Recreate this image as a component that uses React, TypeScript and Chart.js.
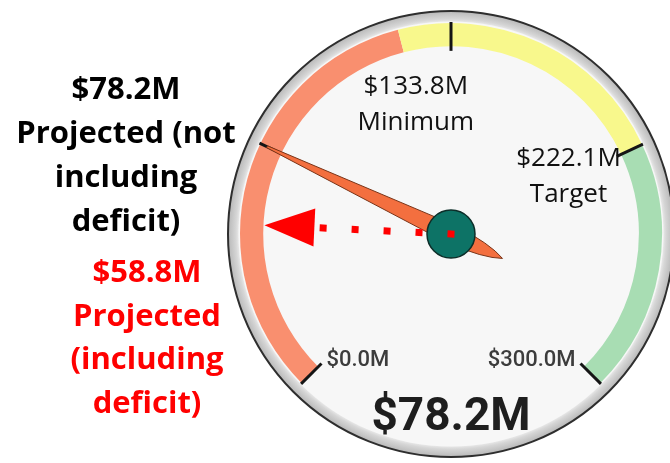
import React, { useEffect, useRef } from 'react';
import { Chart, registerables } from 'chart.js';

Chart.register(...registerables);

// ---- data ----
const scaleMin = 0;
const scaleMax = 300;
const bandStops = [0, 133.8, 222.1, 300];
const bandColors = ['#F98F6F', '#F8F88C', '#A8DDB3'];
const tickValues = [0, 78.2, 150, 222.1, 300];
const endLabels = ['$0.0M', '$300.0M'];
const markerValues = [133.8, 222.1];
const markerAmounts = ['$133.8M', '$222.1M'];
const markerNames = ['Minimum', 'Target'];
const needleValue = 78.2;
const centerLabel = '$78.2M';
const projectedLines = ['$78.2M', 'Projected (not', 'including', 'deficit)'];
const deficitLines = ['$58.8M', 'Projected', '(including', 'deficit)'];

// ---- layout ----
const W = 670;
const H = 463;
const CX = 451;
const CY = 234;
const R = 211;

const bandValues = bandStops.slice(1).map((v, i) => v - bandStops[i]);

const gaugePlugin = {
  id: 'gaugeDecor',
  beforeDatasetsDraw(chart: any) {
    const meta = chart.getDatasetMeta(0);
    const arc = meta.data[0];
    const x = arc.x, y = arc.y, ro = arc.outerRadius;
    const ctx = chart.ctx;
    ctx.save();
    const g = ctx.createRadialGradient(x, y, ro, x, y, ro + 12);
    g.addColorStop(0, '#f0f0f0');
    g.addColorStop(0.35, '#d6d6d6');
    g.addColorStop(1, '#b8b8b8');
    ctx.beginPath();
    ctx.arc(x, y, ro + 12, 0, Math.PI * 2);
    ctx.fillStyle = g;
    ctx.fill();
    ctx.lineWidth = 2;
    ctx.strokeStyle = '#2e2e2e';
    ctx.stroke();
    ctx.beginPath();
    ctx.arc(x, y, ro + 1.5, 0, Math.PI * 2);
    ctx.fillStyle = '#F7F7F7';
    ctx.fill();
    ctx.restore();
  },
  afterDatasetsDraw(chart: any) {
    const meta = chart.getDatasetMeta(0);
    const arcs = meta.data;
    const first = arcs[0];
    const last = arcs[arcs.length - 1];
    const x = first.x, y = first.y, ro = first.outerRadius, ri = first.innerRadius;
    const a0 = first.startAngle, a1 = last.endAngle;
    const ang = (v: number) => a0 + ((v - scaleMin) / (scaleMax - scaleMin)) * (a1 - a0);
    const pt = (a: number, r: number) => ({ x: x + r * Math.cos(a), y: y + r * Math.sin(a) });
    const ctx = chart.ctx;
    ctx.save();

    // ticks
    const r1 = ro * 0.868;
    const r2 = ro + 1;
    ctx.strokeStyle = '#151515';
    ctx.lineWidth = 3;
    tickValues.forEach((v) => {
      const a = ang(v);
      const p1 = pt(a, r1), p2 = pt(a, r2);
      ctx.beginPath();
      ctx.moveTo(p1.x, p1.y);
      ctx.lineTo(p2.x, p2.y);
      ctx.stroke();
    });

    // end labels
    ctx.font = '500 22px Roboto';
    ctx.fillStyle = '#3c3c3c';
    ctx.textBaseline = 'alphabetic';
    const pMin = pt(ang(scaleMin), r1);
    ctx.textAlign = 'left';
    ctx.fillText(endLabels[0], pMin.x + 5, pMin.y + 2);
    const pMax = pt(ang(scaleMax), r1);
    ctx.textAlign = 'right';
    ctx.fillText(endLabels[1], pMax.x - 5, pMax.y + 2);

    // marker labels
    ctx.font = '26px "Open Sans"';
    ctx.fillStyle = '#111';
    ctx.textAlign = 'center';
    markerValues.forEach((v, i) => {
      const p = pt(ang(v), 132);
      ctx.fillText(markerAmounts[i], p.x - 2, p.y - 12);
      ctx.fillText(markerNames[i], p.x - 2, p.y + 24);
    });

    // needle
    const an = ang(needleValue);
    const ux = Math.cos(an), uy = Math.sin(an);
    const nx = -uy, ny = ux;
    const L = (s: number, t: number) => [x + ux * s + nx * t, y + uy * s + ny * t];
    ctx.beginPath();
    let q = L(ro * 0.965, 1);
    ctx.moveTo(q[0], q[1]);
    q = L(0, 9.5);
    ctx.lineTo(q[0], q[1]);
    let c = L(-40, 8);
    q = L(-57, 0);
    ctx.quadraticCurveTo(c[0], c[1], q[0], q[1]);
    c = L(-40, -8);
    q = L(0, -9.5);
    ctx.quadraticCurveTo(c[0], c[1], q[0], q[1]);
    q = L(ro * 0.965, -1);
    ctx.lineTo(q[0], q[1]);
    ctx.closePath();
    ctx.fillStyle = '#F36F3F';
    ctx.fill();
    ctx.lineWidth = 1;
    ctx.strokeStyle = '#7a3418';
    ctx.stroke();

    // hub
    ctx.beginPath();
    ctx.arc(x, y, 24, 0, Math.PI * 2);
    ctx.fillStyle = '#0D7366';
    ctx.fill();
    ctx.lineWidth = 1.5;
    ctx.strokeStyle = '#0c2e29';
    ctx.stroke();

    // red dotted arrow annotation (hand-drawn style)
    const tilt = (2.7 * Math.PI) / 180;
    const dx = -Math.cos(tilt), dy = -Math.sin(tilt);
    const A = (s: number, t: number) => [x + dx * s - dy * t, y + dy * s + dx * t];
    ctx.strokeStyle = '#FF0000';
    ctx.fillStyle = '#FF0000';
    ctx.lineWidth = 7;
    ctx.setLineDash([7, 25]);
    ctx.beginPath();
    const s0 = A(-3.5, 0), s1 = A(132, 0);
    ctx.moveTo(s0[0], s0[1]);
    ctx.lineTo(s1[0], s1[1]);
    ctx.stroke();
    ctx.setLineDash([]);
    const tipS = ri - 1;
    const h1 = A(tipS, 0), h2 = A(tipS - 50, 19), h3 = A(tipS - 50, -19);
    ctx.beginPath();
    ctx.moveTo(h1[0], h1[1]);
    ctx.lineTo(h2[0], h2[1]);
    ctx.lineTo(h3[0], h3[1]);
    ctx.closePath();
    ctx.fill();

    // center value
    ctx.font = 'bold 46px Roboto';
    ctx.fillStyle = '#1e1e1e';
    ctx.textAlign = 'center';
    ctx.fillText(centerLabel, x, y + 196);

    // left annotations
    ctx.font = 'bold 31px "Open Sans"';
    ctx.fillStyle = '#000000';
    projectedLines.forEach((t, i) => ctx.fillText(t, 126, 99 + 44 * i));
    ctx.fillStyle = '#FF0000';
    deficitLines.forEach((t, i) => ctx.fillText(t, 147, 282 + 43.7 * i));

    ctx.restore();
  },
};

export default function App() {
  const ref = useRef<HTMLCanvasElement | null>(null);
  useEffect(() => {
    if (!ref.current) return;
    const offY = ((1 - Math.SQRT1_2) / 2) * R;
    const chart = new Chart(ref.current, {
      type: 'doughnut',
      data: {
        labels: ['Below minimum', 'Minimum to target', 'Above target'],
        datasets: [
          {
            data: bandValues,
            backgroundColor: bandColors,
            borderWidth: 0,
          },
        ],
      },
      options: {
        responsive: false,
        animation: false,
        rotation: -135,
        circumference: 270,
        cutout: '89%',
        radius: R,
        events: [],
        layout: {
          padding: { left: 2 * CX - W, right: 0, top: 0, bottom: H - 2 * (CY - offY) },
        },
        plugins: { legend: { display: false }, tooltip: { enabled: false } },
      },
      plugins: [gaugePlugin],
    } as any);
    return () => chart.destroy();
  }, []);
  return (
    <div style={{ position: 'fixed', left: 0, top: 0, width: W, height: H, background: '#fff' }}>
      <canvas ref={ref} width={W} height={H} style={{ display: 'block', width: W, height: H }} />
    </div>
  );
}
